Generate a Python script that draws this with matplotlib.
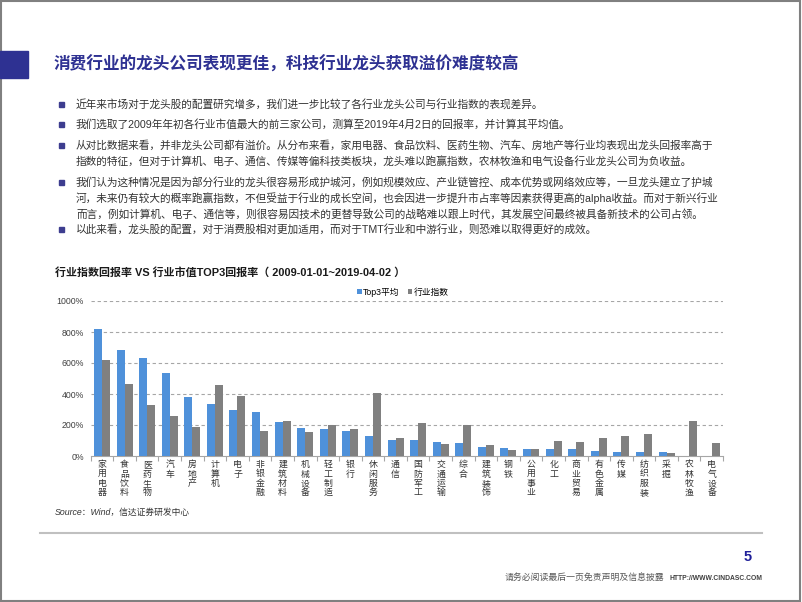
import numpy as np
import matplotlib.pyplot as plt
from matplotlib.patches import Rectangle

plt.rcParams['font.family'] = ['Liberation Sans', 'Noto Sans CJK SC', 'DejaVu Sans']

# data (%, 2009-01-01 ~ 2019-04-02)
industries = ['家用电器', '食品饮料', '医药生物', '汽车', '房地产', '计算机', '电子',
              '非银金融', '建筑材料', '机械设备', '轻工制造', '银行', '休闲服务', '通信',
              '国防军工', '交通运输', '综合', '建筑装饰', '钢铁', '公用事业', '化工',
              '商业贸易', '有色金属', '传媒', '纺织服装', '采掘', '农林牧渔', '电气设备']
top3_avg = [819, 684, 634, 533, 383, 335, 294, 283, 220, 179, 177, 160, 126, 104,
            103, 89, 85, 59, 53, 48, 48, 44, 35, 29, 29, 24, -2, -3]
index_ret = [618, 466, 328, 257, 190, 461, 386, 160, 225, 158, 197, 175, 405, 117,
             212, 77, 202, 74, 40, 48, 98, 91, 114, 130, 143, 20, 229, 87]
yticks = [0, 200, 400, 600, 800, 1000]

title = '消费行业的龙头公司表现更佳，科技行业龙头获取溢价难度较高'
bullets = [
    ['近年来市场对于龙头股的配置研究增多，我们进一步比较了各行业龙头公司与行业指数的表现差异。'],
    ['我们选取了2009年年初各行业市值最大的前三家公司，测算至2019年4月2日的回报率，并计算其平均值。'],
    ['从对比数据来看，并非龙头公司都有溢价。从分布来看，家用电器、食品饮料、医药生物、汽车、房地产等行业均表现出龙头回报率高于',
     '指数的特征，但对于计算机、电子、通信、传媒等偏科技类板块，龙头难以跑赢指数，农林牧渔和电气设备行业龙头公司为负收益。'],
    ['我们认为这种情况是因为部分行业的龙头很容易形成护城河，例如规模效应、产业链管控、成本优势或网络效应等，一旦龙头建立了护城',
     '河，未来仍有较大的概率跑赢指数，不但受益于行业的成长空间，也会因进一步提升市占率等因素获得更高的alpha收益。而对于新兴行业',
     '而言，例如计算机、电子、通信等，则很容易因技术的更替导致公司的战略难以跟上时代，其发展空间最终被具备新技术的公司占领。'],
    ['以此来看，龙头股的配置，对于消费股相对更加适用，而对于TMT行业和中游行业，则恐难以取得更好的成效。'],
]
bullet_y = [104, 124, 145, 182, 229]

W, H = 802, 602
def fx(x):
    return x / W
def fy(y):
    return 1 - y / H

fig = plt.figure(figsize=(W / 100, H / 100), dpi=100)

# page frame
fig.patches.append(Rectangle((0.001, 0.001), 0.997, 0.997, transform=fig.transFigure,
                             fill=False, edgecolor='#808080', lw=1.5))

# title bar
fig.patches.append(Rectangle((0, fy(78)), fx(28), 27 / H, transform=fig.transFigure,
                             color='#2E3192'))
fig.text(fx(54), fy(64), title, fontsize=12, fontweight='bold', color='#2E3192', va='center')

# bullet points
for lines, y in zip(bullets, bullet_y):
    fig.patches.append(Rectangle((fx(59), fy(y + 2.5)), 5 / W, 5 / H,
                                 transform=fig.transFigure, color='#3D3D8F'))
    for k, line in enumerate(lines):
        fig.text(fx(76), fy(y + k * 16), line, fontsize=7.7, color='#333333', va='center')

# chart title
fig.text(fx(55), fy(272), '行业指数回报率 VS 行业市值TOP3回报率（ 2009-01-01~2019-04-02 ）',
         fontsize=7.9, fontweight='bold', color='#1A1A1A', va='center')

# chart
ax = fig.add_axes([fx(90.7), fy(456), (723 - 90.7) / W, (456 - 301) / H])
x = np.arange(len(industries))
bw = 0.354
ax.bar(x - bw / 2, top3_avg, bw, color='#4F91DA', label='Top3平均', clip_on=False, zorder=3)
ax.bar(x + bw / 2, index_ret, bw, color='#808080', label='行业指数', clip_on=False, zorder=3)

ax.set_xlim(-0.5, len(industries) - 0.5)
ax.set_ylim(0, 1000)
ax.set_yticks(yticks)
ax.set_yticklabels([f'{v}%' for v in yticks], fontsize=6.3, color='#404040')
ax.tick_params(axis='y', length=0, pad=5)
for v in yticks[1:]:
    ax.axhline(v, color='#A6A6A6', lw=0.8, ls=(0, (3, 2.5)), zorder=1)

ax.set_xticks(x)
ax.set_xticklabels(['\n'.join(s) for s in industries], fontsize=6.4, color='#333333',
                   linespacing=1.05, va='top')
ax.tick_params(axis='x', which='major', length=0, pad=3)
ax.set_xticks(np.arange(-0.5, len(industries)), minor=True)
ax.tick_params(axis='x', which='minor', length=3.5, color='#A6A6A6', width=0.8)

for s in ['top', 'right', 'left']:
    ax.spines[s].set_visible(False)
ax.spines['bottom'].set_color('#A6A6A6')
ax.spines['bottom'].set_linewidth(0.8)

ax.legend(loc='center', bbox_to_anchor=(fx(403), fy(292)), bbox_transform=fig.transFigure,
          ncol=2, frameon=False, fontsize=6.3, handlelength=0.5, handleheight=0.5,
          handletextpad=0.2, columnspacing=0.9, borderpad=0)

# source
fig.text(fx(55), fy(512), 'Source：Wind，信达证券研发中心', fontsize=6.3, style='italic',
         color='#333333', va='center')

# footer
fig.add_artist(plt.Line2D([fx(40), fx(762)], [fy(533), fy(533)], transform=fig.transFigure,
                          color='#C0C0C0', lw=1.5))
fig.text(fx(748), fy(557), '5', fontsize=10.5, fontweight='bold', color='#1F1F99',
         ha='center', va='center')
fig.text(fx(505), fy(578), '请务必阅读最后一页免责声明及信息披露', fontsize=6.4,
         color='#595959', va='center')
fig.text(fx(762), fy(578), 'HTTP://WWW.CINDASC.COM', fontsize=4.9, fontweight='bold',
         color='#404040', ha='right', va='center')

fig.savefig('out.png', dpi=100)
